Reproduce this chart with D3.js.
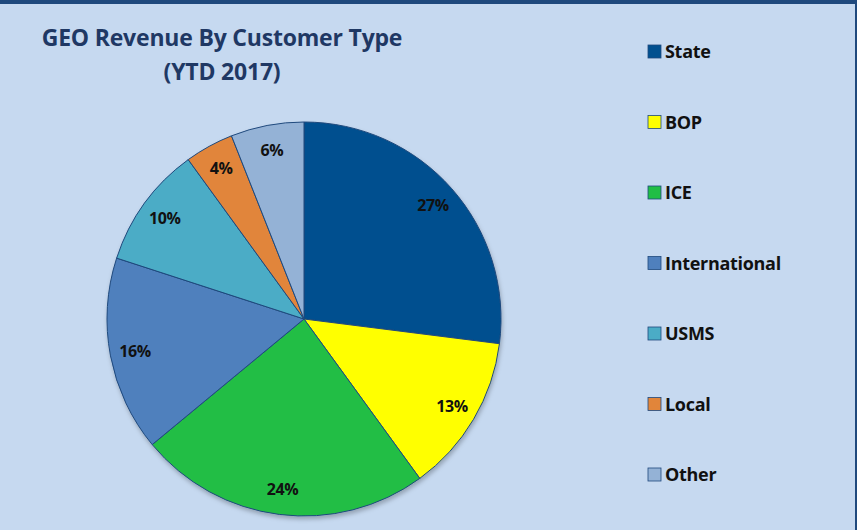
<!DOCTYPE html>
<html>
<head>
<meta charset="utf-8">
<script src="https://cdn.jsdelivr.net/npm/d3@7"></script>
<style>
  body { margin: 0; background: #c6d9f0; }
  svg { display: block; }
</style>
</head>
<body>
<svg id="pie-chart" width="857" height="530"></svg>
<script>
var categories = ['State', 'BOP', 'ICE', 'International', 'USMS', 'Local', 'Other']
var shares = [27, 13, 24, 16, 10, 4, 6]
var colors = ['#01508f', '#ffff00', '#21be45', '#4f80bd', '#4bacc6', '#e1853a', '#94b2d6']
var titleLines = ['GEO Revenue By Customer Type', '(YTD 2017)']

var data = categories.map(function (c, i) {
    return { name: c, value: shares[i], color: colors[i] }
})

var svg = d3.select('#pie-chart')
var width = +svg.attr('width')
var height = +svg.attr('height')

// background + frame
svg.append('rect').attr('width', width).attr('height', height).attr('fill', '#c6d9f0')
svg.append('rect').attr('x', 0).attr('y', 0).attr('width', width).attr('height', 4).attr('fill', '#1f497d')
svg.append('rect').attr('x', width - 2).attr('y', 0).attr('width', 2).attr('height', height).attr('fill', '#1f497d')

var defs = svg.append('defs')
var f = defs.append('filter').attr('id', 'shadow').attr('x', '-10%').attr('y', '-10%').attr('width', '120%').attr('height', '120%')
f.append('feDropShadow').attr('dx', 1).attr('dy', 3).attr('stdDeviation', 2).attr('flood-color', '#000').attr('flood-opacity', 0.25)

// title
svg.append('g').selectAll('text').data(titleLines).enter()
    .append('text')
    .attr('x', 222)
    .attr('y', (d, i) => 46 + i * 34)
    .attr('text-anchor', 'middle')
    .attr('font-family', '"Open Sans", sans-serif')
    .attr('font-weight', 'bold')
    .attr('font-size', 23)
    .attr('letter-spacing', -0.2)
    .attr('fill', '#1f3864')
    .text(d => d)

// pie
var cx = 304, cy = 319, radius = 197
var pie = d3.pie().value(d => d.value).sort(null)
var arc = d3.arc().innerRadius(0).outerRadius(radius)
var labelArc = d3.arc().innerRadius(172).outerRadius(172)

var g = svg.append('g').attr('transform', 'translate(' + cx + ',' + cy + ')')
g.append('g').attr('filter', 'url(#shadow)')
    .selectAll('path').data(pie(data)).enter()
    .append('path')
    .attr('d', arc)
    .attr('fill', d => d.data.color)
    .attr('stroke', '#1f497d')
    .attr('stroke-width', 1)

g.selectAll('text.lbl').data(pie(data)).enter()
    .append('text')
    .attr('class', 'lbl')
    .attr('transform', d => 'translate(' + labelArc.centroid(d) + ')')
    .attr('text-anchor', 'middle')
    .attr('dy', '0.35em')
    .attr('font-family', '"Open Sans", sans-serif')
    .attr('font-weight', 'bold')
    .attr('font-size', 16)
    .attr('letter-spacing', -0.4)
    .attr('fill', '#111')
    .text(d => d.data.value + '%')

// legend
var legendY = d3.scalePoint().domain(categories).range([52, 475])
var legend = svg.append('g').selectAll('g').data(data).enter()
    .append('g')
    .attr('transform', d => 'translate(648,' + legendY(d.name) + ')')
legend.append('rect')
    .attr('x', 0).attr('y', -7)
    .attr('width', 13).attr('height', 13)
    .attr('fill', d => d.color)
    .attr('stroke', '#1f497d')
    .attr('stroke-width', 0.8)
legend.append('text')
    .attr('x', 17)
    .attr('dy', '0.35em')
    .attr('font-family', '"Open Sans", sans-serif')
    .attr('font-weight', 'bold')
    .attr('font-size', 18)
    .attr('letter-spacing', -0.3)
    .attr('fill', '#111')
    .text(d => d.name)
</script>
</body>
</html>
